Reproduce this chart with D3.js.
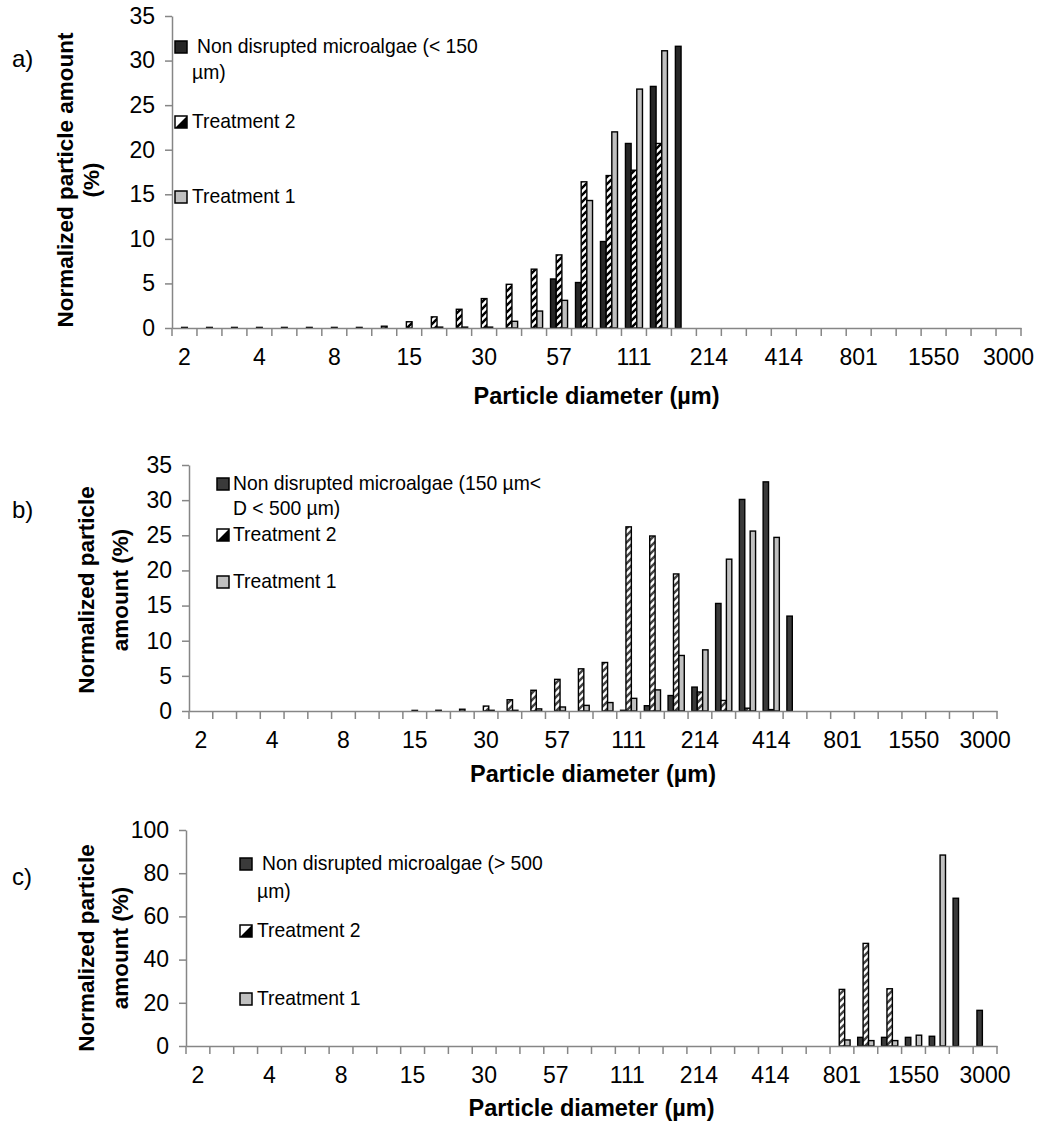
<!DOCTYPE html>
<html>
<head>
<meta charset="utf-8">
<script src="https://cdn.jsdelivr.net/npm/d3@7"></script>
<style>
  body { margin: 0; background: #fff; }
  svg text { font-family: "Liberation Sans", Arial, sans-serif; fill: #000; }
  svg text.bold { font-weight: bold; }
</style>
</head>
<body>
<svg id="chart" width="1038" height="1128"></svg>
<script>
// size classes (µm), only every third one is labelled on the axis
const bins = ["2", "2.5", "3.2", "4", "5", "6.3", "8", "9.6", "12", "15", "19", "24",
  "30", "37", "46", "57", "71", "89", "111", "138", "172", "214", "266", "332",
  "414", "515", "642", "801", "996", "1240", "1550", "1930", "2400", "3000"];
const tickLabels = ["2", "4", "8", "15", "30", "57", "111", "214", "414", "801", "1550", "3000"];
const seriesKeys = ["nd", "t2", "t1"];

const n = null;
// a) non disrupted < 150 µm
const ndA = [n, n, n, n, n, n, n, n, n, n, n, n, n, n, n, 5.5, 5.1, 9.7, 20.7, 27.1, 31.6, n, n, n, n, n, n, n, n, n, n, n, n, n];
const t2A = [0, 0, 0, 0, 0, 0, 0, 0, 0.2, 0.7, 1.25, 2.1, 3.3, 4.9, 6.6, 8.2, 16.4, 17.1, 17.7, 20.7, n, n, n, n, n, n, n, n, n, n, n, n, n, n];
const t1A = [n, n, n, n, n, n, n, n, n, n, 0.1, 0.1, 0.1, 0.75, 1.9, 3.1, 14.3, 22.0, 26.8, 31.1, n, n, n, n, n, n, n, n, n, n, n, n, n, n];
// b) 150 µm < D < 500 µm
const ndB = [n, n, n, n, n, n, n, n, n, n, n, n, n, n, n, n, n, n, 0.1, 0.75, 2.2, 3.4, 15.3, 30.1, 32.6, 13.5, n, n, n, n, n, n, n, n];
const t2B = [n, n, n, n, n, n, n, n, n, 0.05, 0.1, 0.25, 0.7, 1.6, 2.95, 4.5, 6.0, 6.9, 26.2, 24.9, 19.5, 2.7, 1.5, 0.4, 0.2, n, n, n, n, n, n, n, n, n];
const t1B = [n, n, n, n, n, n, n, n, n, n, n, n, 0.1, 0.1, 0.3, 0.57, 0.8, 1.2, 1.8, 3.0, 7.9, 8.7, 21.6, 25.6, 24.7, n, n, n, n, n, n, n, n, n];
// c) > 500 µm
const ndC = [n, n, n, n, n, n, n, n, n, n, n, n, n, n, n, n, n, n, n, n, n, n, n, n, n, n, n, n, 4.0, 4.0, 4.0, 4.5, 68.4, 16.5];
const t2C = [n, n, n, n, n, n, n, n, n, n, n, n, n, n, n, n, n, n, n, n, n, n, n, n, n, n, n, 26.2, 47.5, 26.5, n, n, n, n];
const t1C = [n, n, n, n, n, n, n, n, n, n, n, n, n, n, n, n, n, n, n, n, n, n, n, n, n, n, n, 2.8, 2.5, 2.5, 5.0, 88.4, n, n];

const legendA = [["Non disrupted microalgae (< 150", "µm)"], ["Treatment 2"], ["Treatment 1"]];
const legendB = [["Non disrupted microalgae (150 µm<", "D < 500 µm)"], ["Treatment 2"], ["Treatment 1"]];
const legendC = [["Non disrupted microalgae (> 500", "µm)"], ["Treatment 2"], ["Treatment 1"]];

const panels = [
  { tag: "a)", yMax: 35, yStep: 5, data: { nd: ndA, t2: t2A, t1: t1A }, legend: legendA,
    left: 172, right: 1021, top: 16, base: 328, hatch: "hatchA", ndFill: "#262626",
    yTitle: ["Normalized particle amount", "(%)"], yTitleX: [73, 99], yTitleMid: 180,
    tagY: 67, titleY: 404,
    leg: { sx: 175, tx: 197, t2x: 192, rows: [53, 128, 203], line2: 79 } },
  { tag: "b)", yMax: 35, yStep: 5, data: { nd: ndB, t2: t2B, t1: t1B }, legend: legendB,
    left: 189, right: 997, top: 465, base: 711, hatch: "hatchB", ndFill: "#3a3a3a",
    yTitle: ["Normalized particle", "amount (%)"], yTitleX: [94, 128], yTitleMid: 590,
    tagY: 518, titleY: 782,
    leg: { sx: 217, tx: 233, t2x: 233, rows: [490, 541, 588], line2: 515 } },
  { tag: "c)", yMax: 100, yStep: 20, data: { nd: ndC, t2: t2C, t1: t1C }, legend: legendC,
    left: 186, right: 997, top: 830, base: 1046, hatch: "hatchB", ndFill: "#3a3a3a",
    yTitle: ["Normalized particle", "amount (%)"], yTitleX: [94, 128], yTitleMid: 948,
    tagY: 885, titleY: 1116,
    leg: { sx: 240, tx: 262, t2x: 257, rows: [870, 937, 1005], line2: 898 } }
];

const svg = d3.select("#chart");
const defs = svg.append("defs");

function addHatch(id, col) {
  const p = defs.append("pattern")
    .attr("id", id)
    .attr("patternUnits", "userSpaceOnUse")
    .attr("width", 7).attr("height", 7);
  p.append("rect").attr("width", 7).attr("height", 7).attr("fill", "#fff");
  p.append("path")
    .attr("d", "M-1,8 L8,-1 M-2,2 L2,-2 M5,9 L9,5")
    .attr("stroke", col).attr("stroke-width", 2.4);
}
addHatch("hatchA", "#000");
addHatch("hatchB", "#444");

// squeeze text a little to mimic the narrow face of the original
function narrow(sel, f) {
  sel.each(function () {
    const len = this.getComputedTextLength();
    d3.select(this).attr("textLength", len * f).attr("lengthAdjust", "spacingAndGlyphs");
  });
}

const axisCol = "#868686";

panels.forEach(function (p) {
  const g = svg.append("g");

  const x = d3.scaleBand()
    .domain(bins)
    .range([p.left, p.right]);

  const xs = d3.scaleBand()
    .domain(seriesKeys)
    .range([0, x.bandwidth()])
    .paddingOuter(0.7);

  const y = d3.scaleLinear()
    .domain([0, p.yMax])
    .range([p.base, p.top]);

  const fills = { nd: p.ndFill, t2: "url(#" + p.hatch + ")", t1: "#c0c0c0" };

  // bars
  seriesKeys.forEach(function (k) {
    const rows = p.data[k]
      .map(function (v, i) { return { bin: bins[i], v: v }; })
      .filter(function (d) { return d.v !== null; });

    g.selectAll(".bar-" + k)
      .data(rows)
      .enter()
      .append("rect")
      .attr("class", "bar-" + k)
      .attr("x", function (d) { return x(d.bin) + xs(k); })
      .attr("width", xs.bandwidth())
      .attr("y", function (d) { return Math.min(y(d.v), p.base - 0.6); })
      .attr("height", function (d) { return Math.max(p.base - y(d.v), 0.6); })
      .attr("fill", fills[k])
      .attr("stroke", "#000")
      .attr("stroke-width", 1.4);
  });

  // y axis
  const yAxis = g.append("g")
    .attr("transform", "translate(" + p.left + ",0)")
    .call(d3.axisLeft(y)
      .tickValues(d3.range(0, p.yMax + 1, p.yStep))
      .tickSize(7)
      .tickSizeOuter(0)
      .tickPadding(10));
  yAxis.selectAll("text").attr("font-size", 23).attr("fill", "#000");

  // x axis (labels only every third class)
  const xAxis = g.append("g")
    .attr("transform", "translate(0," + p.base + ")")
    .call(d3.axisBottom(x)
      .tickSize(0)
      .tickSizeOuter(0)
      .tickPadding(21)
      .tickFormat(function (d) { return tickLabels.includes(d) ? d : ""; }));
  xAxis.selectAll("text").attr("font-size", 23).attr("fill", "#000");

  // tick marks sit on the class boundaries
  const edges = bins.map(function (b) { return x(b); }).concat([p.right]);
  g.selectAll(".xedge")
    .data(edges)
    .enter()
    .append("line")
    .attr("class", "xedge")
    .attr("x1", function (d) { return d; })
    .attr("x2", function (d) { return d; })
    .attr("y1", p.base)
    .attr("y2", p.base + 8)
    .attr("stroke", axisCol)
    .attr("stroke-width", 1.5);

  g.selectAll(".domain, .tick line")
    .attr("stroke", axisCol)
    .attr("stroke-width", 1.5);

  // titles
  g.append("text")
    .attr("class", "bold")
    .attr("x", (p.left + p.right) / 2)
    .attr("y", p.titleY)
    .attr("text-anchor", "middle")
    .attr("font-size", 23.5)
    .text("Particle diameter (µm)");

  p.yTitle.forEach(function (t, i) {
    g.append("text")
      .attr("class", "bold")
      .attr("transform", "translate(" + p.yTitleX[i] + "," + p.yTitleMid + ") rotate(-90)")
      .attr("text-anchor", "middle")
      .attr("font-size", 22.5)
      .text(t);
  });

  g.append("text")
    .attr("x", 12)
    .attr("y", p.tagY)
    .attr("font-size", 24)
    .text(p.tag);

  // legend
  const lg = g.append("g");
  p.legend.forEach(function (lines, i) {
    const k = seriesKeys[i];
    const by = p.leg.rows[i];
    const row = lg.append("g");
    row.append("rect")
      .attr("x", p.leg.sx)
      .attr("y", by - 12)
      .attr("width", 12)
      .attr("height", 12)
      .attr("fill", k === "t2" ? "#fff" : fills[k])
      .attr("stroke", "#000")
      .attr("stroke-width", 1.5);
    if (k === "t2") {
      row.append("path")
        .attr("d", "M" + (p.leg.sx + 12) + "," + (by - 12) + " L" + (p.leg.sx + 12) + "," + by + " L" + p.leg.sx + "," + by + " Z")
        .attr("fill", "#000");
    }
    lines.forEach(function (t, j) {
      row.append("text")
        .attr("x", j === 0 && k === "nd" ? p.leg.tx : p.leg.t2x)
        .attr("y", j === 0 ? by : p.leg.line2)
        .attr("font-size", 21)
        .text(t);
    });
  });
  narrow(lg.selectAll("text"), 0.92);
});
</script>
</body>
</html>
